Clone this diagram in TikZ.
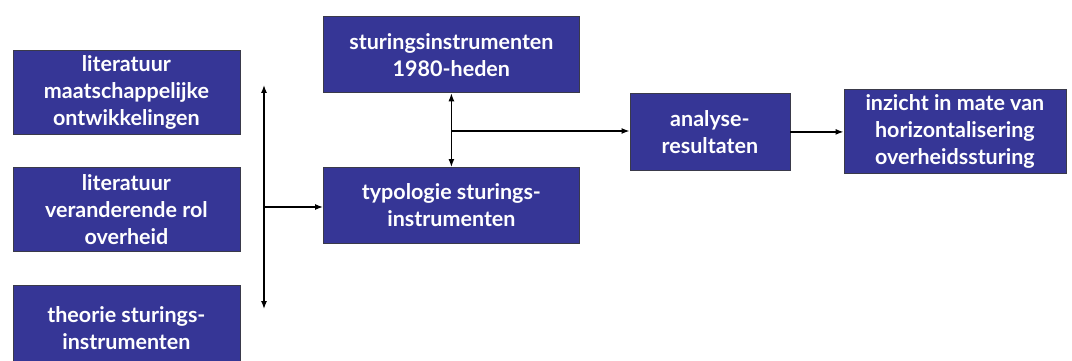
\documentclass[tikz,border=0pt]{standalone}
\usepackage{fontspec}
\setmainfont{Lato}
\usetikzlibrary{arrows.meta}
\definecolor{boxblue}{HTML}{363696}
\definecolor{boxedge}{HTML}{3A3A4A}
\begin{document}
\begin{tikzpicture}[x=1pt,y=-1pt,
  blk/.style={draw=boxedge,line width=0.8pt,fill=boxblue,text=white,inner sep=0pt,
    font=\fontsize{21.5}{27}\selectfont\bfseries,align=center,anchor=north west},
  conn/.style={line width=1.3pt,-{Latex[length=8pt,width=6pt]}},
  dconn/.style={line width=1.3pt,{Latex[length=8pt,width=6pt]}-{Latex[length=8pt,width=6pt]}}]
\useasboundingbox (0,0) rectangle (1072,361);
\clip (0,0) rectangle (1072,361);
\node[blk,minimum width=227pt,minimum height=84pt] (n1) at (12.5,50) {literatuur\\maatschappelijke\\ontwikkelingen};
\node[blk,minimum width=227pt,minimum height=84pt] (n2) at (12.5,167) {literatuur\\veranderende rol\\overheid};
\node[blk,minimum width=227pt,minimum height=86pt] (n3) at (12.5,285) {theorie sturings-\\instrumenten};
\node[blk,minimum width=256pt,minimum height=76pt] (a) at (323,16.5) {sturingsinstrumenten\\1980-heden};
\node[blk,minimum width=256pt,minimum height=76pt] (b) at (323,167) {typologie sturings-\\instrumenten};
\node[blk,minimum width=160pt,minimum height=76pt] (c) at (629.5,93.5) {analyse-\\resultaten};
\node[blk,minimum width=222pt,minimum height=84pt] (d) at (843.5,89) {inzicht in mate van\\horizontalisering\\overheidssturing};
\coordinate (vt) at (264,85);
\coordinate (vb) at (264,309);
\coordinate (vj) at (264,207);
\coordinate (hj) at (451,131);
\draw[dconn] (vt) -- (vb);
\draw[conn] (vj) -- (vj -| b.west);
\draw[dconn] (a.south) -- (b.north);
\draw[conn] (hj) -- (hj -| c.west);
\draw[conn] (c.east) -- (c.east -| d.west);
\end{tikzpicture}
\end{document}
